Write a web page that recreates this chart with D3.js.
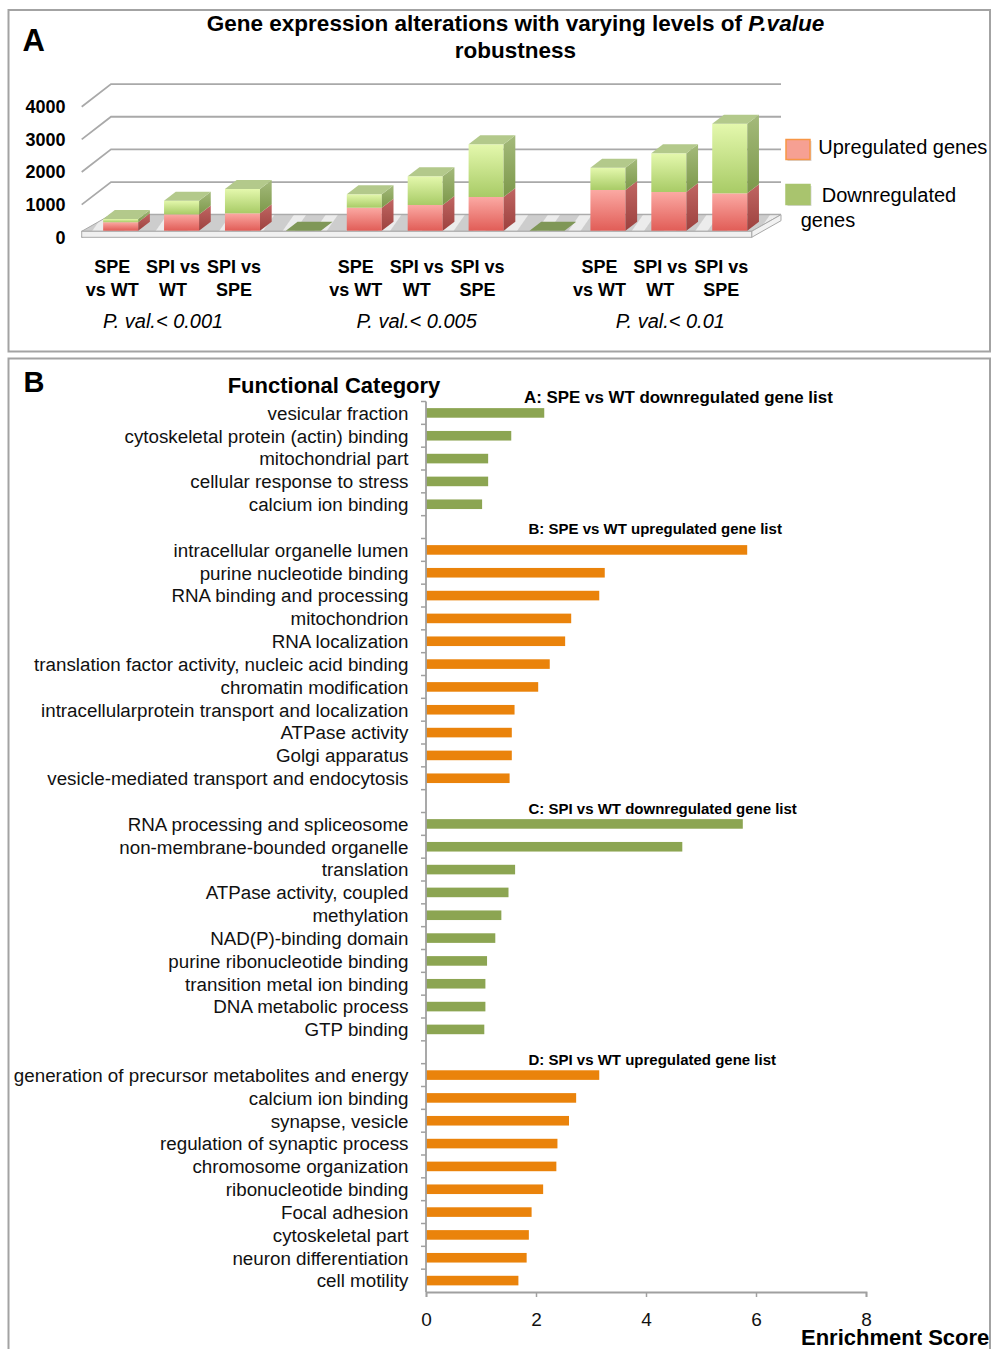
<!DOCTYPE html>
<html>
<head>
<meta charset="utf-8">
<script src="https://cdn.jsdelivr.net/npm/d3@7"></script>
<style>
  body { margin: 0; background: #fff; }
  svg { display: block; font-family: "Liberation Sans", Arial, sans-serif; }
</style>
</head>
<body>
<svg id="chart" width="994" height="1349"></svg>
<script>
// ---- Panel A data: genes per comparison at three P value cut-offs ----
const pvalGroups = ["P. val.< 0.001", "P. val.< 0.005", "P. val.< 0.01"];
const comparisons = ["SPE vs WT", "SPI vs WT", "SPI vs SPE"];
const comparisonLines = [["SPE", "vs WT"], ["SPI vs", "WT"], ["SPI vs", "SPE"]];
// ordered group by group, comparison by comparison
const upregulated = [260, 500, 533, 705, 787, 1032, 1247, 1185, 1145];
const downregulated = [100, 420, 744, 410, 879, 1614, 683, 1185, 2132];
const countTicks = [0, 1000, 2000, 3000, 4000];

// ---- Panel B data: enriched functional categories ----
const listTitles = [
  "A: SPE vs WT downregulated gene list",
  "B: SPE vs WT upregulated gene list",
  "C: SPI vs WT downregulated gene list",
  "D: SPI vs WT upregulated gene list"
];
const listDirection = ["down", "up", "down", "up"];
const termsA = ["vesicular fraction", "cytoskeletal protein (actin) binding", "mitochondrial part",
  "cellular response to stress", "calcium ion binding"];
const scoresA = [2.15, 1.55, 1.13, 1.13, 1.02];
const termsB = ["intracellular organelle lumen", "purine nucleotide binding", "RNA binding and processing",
  "mitochondrion", "RNA localization", "translation factor activity, nucleic acid binding",
  "chromatin modification", "intracellularprotein transport and localization", "ATPase activity",
  "Golgi apparatus", "vesicle-mediated transport and endocytosis"];
const scoresB = [5.84, 3.25, 3.15, 2.64, 2.53, 2.25, 2.04, 1.61, 1.56, 1.56, 1.52];
const termsC = ["RNA processing and spliceosome", "non-membrane-bounded organelle", "translation",
  "ATPase activity, coupled", "methylation", "NAD(P)-binding domain", "purine ribonucleotide binding",
  "transition metal ion binding", "DNA metabolic process", "GTP binding"];
const scoresC = [5.76, 4.66, 1.62, 1.50, 1.37, 1.26, 1.11, 1.08, 1.08, 1.06];
const termsD = ["generation of precursor metabolites and energy", "calcium ion binding", "synapse, vesicle",
  "regulation of synaptic process", "chromosome organization", "ribonucleotide binding",
  "Focal adhesion", "cytoskeletal part", "neuron differentiation", "cell motility"];
const scoresD = [3.15, 2.73, 2.60, 2.39, 2.37, 2.13, 1.92, 1.87, 1.83, 1.68];
const scoreTicks = [0, 2, 4, 6, 8];

const svg = d3.select("#chart");

// gradients for the 3D bars and the floor sheen
const defs = svg.append("defs");
function vGrad(id, c1, c2) {
  const g = defs.append("linearGradient").attr("id", id)
    .attr("x1", 0).attr("y1", 0).attr("x2", 0).attr("y2", 1);
  g.append("stop").attr("offset", "0%").attr("stop-color", c1);
  g.append("stop").attr("offset", "100%").attr("stop-color", c2);
}
vGrad("upFront", "#fba9a3", "#e15d57");
vGrad("upSide", "#c06663", "#9d413e");
vGrad("downFront", "#e4f8ad", "#a8cb66");
vGrad("downSide", "#a4ba7b", "#7c984a");
const stripes = defs.append("pattern").attr("id", "floorSheen")
  .attr("patternUnits", "userSpaceOnUse").attr("width", 26).attr("height", 26)
  .attr("patternTransform", "rotate(35)");
stripes.append("rect").attr("width", 26).attr("height", 26).attr("fill", "#cdcdcd");
stripes.append("rect").attr("width", 10).attr("height", 26).attr("fill", "#ececec");

// ================= PANEL A =================
const slotKeys = [];
pvalGroups.forEach((g, gi) => {
  comparisons.forEach(c => slotKeys.push(g + "|" + c));
  if (gi < pvalGroups.length - 1) slotKeys.push("gap" + gi);
});

const xSlot = d3.scaleBand()
  .domain(slotKeys)
  .range([81.7, 751.7])
  .paddingInner(0.425)
  .paddingOuter(0.2125);

// value scale on the front edge of the floor
const yFront = d3.scaleLinear().domain([0, 4000]).range([237.3, 106.7]);
const depth = { dx: 29.3, dy: -22.6 };   // floor depth
const barShift = { dx: 8.5, dy: -6.6 };  // bars stand a bit behind the front edge
const barDepth = { dx: 11.7, dy: -9 };

const x0 = xSlot.range()[0], x1 = xSlot.range()[1];
const gA = svg.append("g");

// back wall gridlines (with the side diagonals)
gA.append("g").selectAll("path")
  .data(countTicks)
  .join("path")
  .attr("d", v => `M${x0},${yFront(v)} L${x0 + depth.dx},${yFront(v) + depth.dy} L${x1 + depth.dx},${yFront(v) + depth.dy}`)
  .attr("fill", "none")
  .attr("stroke", "#a9a9a9")
  .attr("stroke-width", 1.8);

// value labels
gA.append("g").selectAll("text")
  .data(countTicks)
  .join("text")
  .attr("x", 65.5)
  .attr("y", v => yFront(v))
  .attr("dy", "0.36em")
  .attr("text-anchor", "end")
  .style("font-size", "18px")
  .style("font-weight", "bold")
  .text(d => d);

// floor slab
const fy = yFront(0), ft = 6;
gA.append("polygon")
  .attr("points", [[x0, fy - ft], [x1, fy - ft], [x1 + depth.dx, fy + depth.dy], [x0 + depth.dx, fy + depth.dy]].join(" "))
  .attr("fill", "url(#floorSheen)")
  .attr("stroke", "#a9a9a9").attr("stroke-width", 1);
gA.append("polygon")
  .attr("points", [[x1, fy - ft], [x1 + depth.dx, fy + depth.dy], [x1 + depth.dx, fy + depth.dy + ft], [x1, fy]].join(" "))
  .attr("fill", "#f2f2f2")
  .attr("stroke", "#a9a9a9").attr("stroke-width", 1);
gA.append("rect")
  .attr("x", x0).attr("y", fy - ft)
  .attr("width", x1 - x0).attr("height", ft)
  .attr("fill", "#f0f0f0")
  .attr("stroke", "#a9a9a9").attr("stroke-width", 1);

// bars
const bars = [];
pvalGroups.forEach((g, gi) => comparisons.forEach((c, ci) => {
  const i = gi * comparisons.length + ci;
  bars.push({ key: g + "|" + c, up: upregulated[i], down: downregulated[i] });
}));
const bw = xSlot.bandwidth();
const h = v => yFront(0) - yFront(v);
const base = yFront(0) + barShift.dy;

const gBars = gA.append("g");
bars.forEach(b => {
  const bx = xSlot(b.key) + barShift.dx;
  const segs = [
    { kind: "up", y0: base, y1: base - h(b.up) },
    { kind: "down", y0: base - h(b.up), y1: base - h(b.up + b.down) }
  ];
  const g = gBars.append("g");
  segs.forEach(s => {
    g.append("rect")
      .attr("x", bx).attr("y", s.y1)
      .attr("width", bw).attr("height", s.y0 - s.y1)
      .attr("fill", `url(#${s.kind}Front)`);
    g.append("polygon")
      .attr("points", [[bx + bw, s.y1], [bx + bw + barDepth.dx, s.y1 + barDepth.dy],
        [bx + bw + barDepth.dx, s.y0 + barDepth.dy], [bx + bw, s.y0]].join(" "))
      .attr("fill", `url(#${s.kind}Side)`);
  });
  const yt = segs[1].y1;
  g.append("polygon")
    .attr("points", [[bx, yt], [bx + bw, yt], [bx + bw + barDepth.dx, yt + barDepth.dy], [bx + barDepth.dx, yt + barDepth.dy]].join(" "))
    .attr("fill", "#b3c98b");
});

// empty separator slots show as a flat dark patch on the floor
gBars.selectAll("polygon.gap")
  .data(slotKeys.filter(k => k.startsWith("gap")))
  .join("polygon")
  .attr("class", "gap")
  .attr("points", k => {
    const bx = xSlot(k) + barShift.dx;
    return [[bx, base], [bx + bw, base], [bx + bw + barDepth.dx, base + barDepth.dy], [bx + barDepth.dx, base + barDepth.dy]].join(" ");
  })
  .attr("fill", "#7f9757");

// category labels
pvalGroups.forEach((g, gi) => {
  comparisons.forEach((c, ci) => {
    const cx = xSlot(g + "|" + c) + bw / 2;
    comparisonLines[ci].forEach((line, li) => {
      gA.append("text")
        .attr("x", cx).attr("y", 273 + li * 23)
        .attr("text-anchor", "middle")
        .style("font-size", "18px").style("font-weight", "bold")
        .text(line);
    });
  });
  // the P value captions sit roughly under the middle bar, drifting right group by group
  const mid = xSlot(g + "|" + comparisons[1]) + bw / 2 + (gi - 1) * 10;
  gA.append("text")
    .attr("x", mid).attr("y", 328)
    .attr("text-anchor", "middle")
    .style("font-size", "20px").style("font-style", "italic")
    .text(g);
});

// title
const title = gA.append("text").attr("text-anchor", "middle")
  .style("font-size", "22.5px").style("font-weight", "bold");
title.append("tspan").attr("x", 515.5).attr("y", 30.5)
  .text("Gene expression alterations with varying levels of ");
title.append("tspan").style("font-style", "italic").text("P.value");
title.append("tspan").attr("x", 515.5).attr("y", 57.8).text("robustness");

gA.append("text").attr("x", 22.5).attr("y", 50.7)
  .style("font-size", "31px").style("font-weight", "bold").text("A");

// legend
const legend = [
  { label: ["Upregulated genes"], fill: "#f6a093", stroke: "#f79646", tx: 818.3, ty: 154 },
  { label: ["Downregulated", "genes"], fill: "#a9c46e", stroke: "#a9c46e", tx: 821.7, ty: 201.7 }
];
legend.forEach((l, i) => {
  const ry = 139.5 + i * 45;
  gA.append("rect").attr("x", 787.5).attr("y", ry + 1.5).attr("width", 24).attr("height", 20).attr("fill", "#d9d9d9");
  gA.append("rect").attr("x", 786).attr("y", ry).attr("width", 24).attr("height", 20)
    .attr("fill", l.fill).attr("stroke", l.stroke).attr("stroke-width", 1.5);
  l.label.forEach((t, li) => {
    gA.append("text")
      .attr("x", li === 0 ? l.tx : 800.7)
      .attr("y", l.ty + li * 25.5)
      .style("font-size", "20px")
      .text(t);
  });
});

// ================= PANEL B =================
const sections = [
  { terms: termsA, scores: scoresA },
  { terms: termsB, scores: scoresB },
  { terms: termsC, scores: scoresC },
  { terms: termsD, scores: scoresD }
];
const rows = [];
sections.forEach((s, si) => {
  if (si > 0) rows.push({ key: "gap" + si, blank: true });
  s.terms.forEach((t, ti) => rows.push({
    key: si + "-" + ti, term: t, score: s.scores[ti], dir: listDirection[si], section: si, first: ti === 0
  }));
});

const yRow = d3.scaleBand()
  .domain(rows.map(r => r.key))
  .range([401.5, 1292])
  .paddingInner(0.58)
  .paddingOuter(0.29);
const xScore = d3.scaleLinear().domain([0, 8]).range([426, 866]);
const dirColor = { down: "#8ca552", up: "#ea830b" };

const gB = svg.append("g");
const dataRows = rows.filter(r => !r.blank);

gB.append("g").selectAll("rect")
  .data(dataRows)
  .join("rect")
  .attr("x", xScore(0))
  .attr("y", r => yRow(r.key))
  .attr("width", r => xScore(r.score) - xScore(0))
  .attr("height", yRow.bandwidth())
  .attr("fill", r => dirColor[r.dir]);

gB.append("g").selectAll("text")
  .data(dataRows)
  .join("text")
  .attr("x", 408.5)
  .attr("y", r => yRow(r.key) + yRow.bandwidth() / 2)
  .attr("dy", "0.36em")
  .attr("text-anchor", "end")
  .style("font-size", "18.8px")
  .style("fill", "#111")
  .text(r => r.term);

// list headings (the first one was set a little larger in the original)
gB.append("g").selectAll("text")
  .data(dataRows.filter(r => r.first))
  .join("text")
  .attr("x", r => r.section === 0 ? 524 : 528.5)
  .attr("y", r => yRow(r.key) - yRow.paddingOuter() * yRow.step() + (r.section === 1 ? -5 : 1))
  .style("font-size", r => r.section === 0 ? "16.9px" : "15px")
  .style("font-weight", "bold")
  .text(r => listTitles[r.section]);

// category axis with ticks between rows
const step = yRow.step();
const axisTop = yRow.range()[0], axisBottom = yRow.range()[1];
gB.append("line")
  .attr("x1", xScore(0)).attr("x2", xScore(0))
  .attr("y1", axisTop).attr("y2", axisBottom)
  .attr("stroke", "#a0a0a0").attr("stroke-width", 1.8);
gB.append("g").selectAll("line")
  .data(d3.range(rows.length))
  .join("line")
  .attr("x1", xScore(0) - 5).attr("x2", xScore(0))
  .attr("y1", k => axisTop + k * step).attr("y2", k => axisTop + k * step)
  .attr("stroke", "#a0a0a0").attr("stroke-width", 1.5);

// score axis
const xAxis = gB.append("g")
  .attr("transform", `translate(0,${axisBottom})`)
  .call(d3.axisBottom(xScore).tickValues(scoreTicks).tickSize(5).tickPadding(16));
xAxis.select(".domain").attr("stroke", "#a0a0a0").attr("stroke-width", 1.8);
xAxis.selectAll(".tick line").attr("stroke", "#a0a0a0").attr("stroke-width", 1.5);
xAxis.selectAll(".tick text")
  .style("font-size", "19px")
  .style("font-family", "'Liberation Sans', Arial, sans-serif")
  .attr("fill", "#111");

gB.append("text").attr("x", 801).attr("y", 1345)
  .style("font-size", "22px").style("font-weight", "bold").text("Enrichment Score");
gB.append("text").attr("x", 334).attr("y", 392.5).attr("text-anchor", "middle")
  .style("font-size", "22px").style("font-weight", "bold").text("Functional Category");
gB.append("text").attr("x", 23.5).attr("y", 391.5)
  .style("font-size", "29px").style("font-weight", "bold").text("B");

// panel frames
svg.append("rect").attr("x", 8.5).attr("y", 10).attr("width", 981.5).attr("height", 341.5)
  .attr("fill", "none").attr("stroke", "#a3a3a3").attr("stroke-width", 2);
svg.append("rect").attr("x", 8.5).attr("y", 358.5).attr("width", 981.5).attr("height", 1010)
  .attr("fill", "none").attr("stroke", "#a3a3a3").attr("stroke-width", 2);
</script>
</body>
</html>
